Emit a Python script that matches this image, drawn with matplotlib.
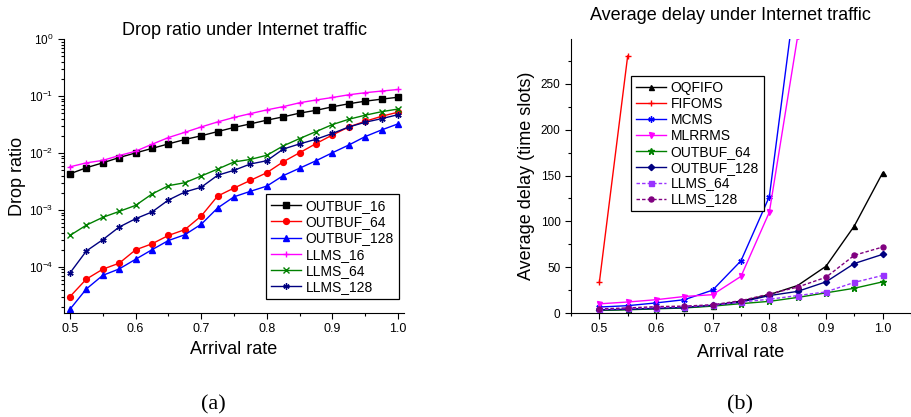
import numpy as np
import matplotlib.pyplot as plt
from matplotlib.ticker import MultipleLocator, LogLocator, NullFormatter

plt.rcParams['font.family'] = ['Liberation Sans', 'DejaVu Sans']
plt.rcParams['mathtext.fontset'] = 'custom'
plt.rcParams['mathtext.rm'] = 'Liberation Sans'

# drop ratio, arrival rate 0.5 .. 1.0 step 0.025
rate_a = np.round(np.arange(0.5, 1.0001, 0.025), 3)
outbuf_16 = [4.3e-3, 5.5e-3, 6.7e-3, 8.3e-3, 1.0e-2, 1.2e-2, 1.44e-2, 1.72e-2, 2.0e-2, 2.37e-2, 2.8e-2,
             3.24e-2, 3.76e-2, 4.3e-2, 5.0e-2, 5.6e-2, 6.45e-2, 7.3e-2, 8.1e-2, 8.8e-2, 9.5e-2]
outbuf_64 = [3.0e-5, 6.1e-5, 9.1e-5, 1.16e-4, 1.99e-4, 2.54e-4, 3.56e-4, 4.5e-4, 7.8e-4, 1.75e-3, 2.42e-3,
             3.3e-3, 4.5e-3, 7.0e-3, 1.01e-2, 1.46e-2, 2.07e-2, 2.86e-2, 3.6e-2, 4.4e-2, 5.2e-2]
outbuf_128 = [1.8e-5, 4.1e-5, 7.1e-5, 9.2e-5, 1.36e-4, 2.0e-4, 2.9e-4, 3.66e-4, 5.6e-4, 1.08e-3, 1.7e-3,
              2.12e-3, 2.62e-3, 4.0e-3, 5.4e-3, 7.3e-3, 1.01e-2, 1.38e-2, 1.94e-2, 2.54e-2, 3.24e-2]
llms_16 = [5.7e-3, 6.7e-3, 7.4e-3, 9.0e-3, 1.07e-2, 1.42e-2, 1.86e-2, 2.3e-2, 2.86e-2, 3.5e-2, 4.2e-2,
           4.9e-2, 5.7e-2, 6.5e-2, 7.6e-2, 8.5e-2, 9.4e-2, 0.105, 0.114, 0.122, 0.13]
llms_64 = [3.56e-4, 5.4e-4, 7.4e-4, 9.4e-4, 1.2e-3, 1.9e-3, 2.66e-3, 3.0e-3, 3.94e-3, 5.2e-3, 6.95e-3,
           7.7e-3, 9.1e-3, 1.33e-2, 1.79e-2, 2.37e-2, 3.15e-2, 3.9e-2, 4.6e-2, 5.3e-2, 5.9e-2]
llms_128 = [7.8e-5, 1.9e-4, 3.0e-4, 5.0e-4, 7.0e-4, 9.2e-4, 1.49e-3, 2.06e-3, 2.5e-3, 4.05e-3, 4.96e-3,
            6.4e-3, 7.3e-3, 1.17e-2, 1.44e-2, 1.74e-2, 2.2e-2, 2.86e-2, 3.46e-2, 4.0e-2, 4.7e-2]

# average delay, arrival rate 0.5 .. 1.0 step 0.05
rate_b = np.round(np.arange(0.5, 1.0001, 0.05), 2)
oqfifo = [3, 4, 5, 6, 8, 13, 20, 30, 51, 95, 153]
fifoms = [33.4, 280.5]
mcms = [6.5, 8, 11, 14.5, 25, 57, 127, 366]
mlrrms = [10, 12, 14.5, 18, 20, 40, 110, 302]
outbuf_64_d = [3, 3.5, 4.5, 5.5, 7.5, 10.2, 12.7, 17, 22, 27, 34]
outbuf_128_d = [3.5, 4, 5, 6, 8.5, 12, 19, 23.6, 34, 54, 64]
llms_64_d = [4, 5, 6, 7, 8.5, 12, 15, 19, 23, 33.4, 41]
llms_128_d = [4.5, 5.5, 7, 7.5, 9, 13.5, 20.7, 28.3, 39, 63, 72]

fig = plt.figure(figsize=(9.11, 4.17), dpi=100)

# (a) drop ratio
ax1 = fig.add_axes([0.0703, 0.2494, 0.3732, 0.6571])
ms = 4.2
ax1.plot(rate_a, outbuf_16, '-s', color='black', ms=ms, lw=1, label='OUTBUF_16')
ax1.plot(rate_a, outbuf_64, '-o', color='red', ms=ms, lw=1, label='OUTBUF_64')
ax1.plot(rate_a, outbuf_128, '-^', color='blue', ms=ms, lw=1, label='OUTBUF_128')
ax1.plot(rate_a, llms_16, '-+', color='#ff00ff', ms=5, mew=1, lw=1, label='LLMS_16')
ax1.plot(rate_a, llms_64, '-x', color='#008000', ms=4, mew=1, lw=1, label='LLMS_64')
ax1.plot(rate_a, llms_128, '-', marker=(6, 2, 0), color='#000080', ms=4.5, mew=1, lw=1, label='LLMS_128')
ax1.set_yscale('log')
ax1.set_ylim(1.55e-5, 1)
ax1.set_xlim(0.491, 1.009)
ax1.xaxis.set_minor_locator(MultipleLocator(0.05))
ax1.yaxis.set_major_locator(LogLocator(base=10, numticks=10))
ax1.yaxis.set_minor_locator(LogLocator(base=10, subs=np.arange(2, 10), numticks=20))
ax1.yaxis.set_minor_formatter(NullFormatter())
ax1.set_xticks(np.arange(0.5, 1.01, 0.1))
ax1.set_xticklabels(['0.5', '0.6', '0.7', '0.8', '0.9', '1.0'])
ax1.set_title('Drop ratio under Internet traffic', fontsize=13, pad=0, x=0.53)
ax1.set_xlabel('Arrival rate', fontsize=13, labelpad=4)
ax1.set_ylabel('Drop ratio', fontsize=13, labelpad=2)
ax1.legend(loc='upper left', bbox_to_anchor=(0.594, 0.434), fontsize=10, handlelength=2.2,
           handletextpad=0.3, labelspacing=0.16, borderpad=0.35, fancybox=False,
           edgecolor='black', framealpha=1, borderaxespad=0).get_frame().set_linewidth(0.9)

# (b) average delay
ax2 = fig.add_axes([0.6268, 0.2494, 0.3732, 0.6571])
ms = 3.6
ax2.plot(rate_b, oqfifo, '-^', color='black', ms=ms, lw=1, label='OQFIFO')
ax2.plot(rate_b[:len(fifoms)], fifoms, '-+', color='red', ms=5, mew=1, lw=1, label='FIFOMS')
ax2.plot(rate_b[:len(mcms)], mcms, '-', marker=(6, 2, 0), color='blue', ms=4.5, mew=1, lw=1, label='MCMS')
ax2.plot(rate_b[:len(mlrrms)], mlrrms, '-v', color='#ff00ff', ms=ms, lw=1, label='MLRRMS')
ax2.plot(rate_b, outbuf_64_d, '-*', color='#008000', ms=4.5, lw=1, label='OUTBUF_64')
ax2.plot(rate_b, outbuf_128_d, '-D', color='#000080', ms=3.2, lw=1, label='OUTBUF_128')
ax2.plot(rate_b, llms_64_d, 's', ls=(0, (2.5, 1.5)), color='#9933ff', ms=ms, lw=1, label='LLMS_64')
ax2.plot(rate_b, llms_128_d, 'o', ls=(0, (2.5, 1.5)), color='#800080', ms=ms, lw=1, label='LLMS_128')
ax2.set_xlim(0.45, 1.05)
ax2.set_ylim(0, 299)
ax2.xaxis.set_minor_locator(MultipleLocator(0.05))
ax2.set_xticks(np.arange(0.5, 1.01, 0.1))
ax2.set_xticklabels(['0.5', '0.6', '0.7', '0.8', '0.9', '1.0'])
ax2.yaxis.set_major_locator(MultipleLocator(50))
ax2.yaxis.set_minor_locator(MultipleLocator(25))
ax2.set_title('Average delay under Internet traffic', fontsize=13, pad=14, x=0.47)
ax2.set_xlabel('Arrival rate', fontsize=13, labelpad=6)
ax2.set_ylabel('Average delay (time slots)', fontsize=13, labelpad=4)
ax2.legend(loc='upper left', bbox_to_anchor=(0.176, 0.865), fontsize=10, handlelength=2.2,
           handletextpad=0.3, labelspacing=0.14, borderpad=0.35, fancybox=False,
           edgecolor='black', framealpha=1, borderaxespad=0).get_frame().set_linewidth(0.9)

for ax in (ax1, ax2):
    ax.spines['top'].set_visible(False)
    ax.spines['right'].set_visible(False)
    ax.tick_params(which='both', direction='out', labelsize=8.5, width=0.8)
    ax.tick_params(axis='x', labelsize=9)
    ax.tick_params(which='major', length=4)
    ax.tick_params(which='minor', length=2.5)

fig.text(213 / 911, 1 - 405 / 417, '(a)', family='Liberation Serif', fontsize=16, ha='center', va='center')
fig.text(740 / 911, 1 - 405 / 417, '(b)', family='Liberation Serif', fontsize=16, ha='center', va='center')

fig.savefig('out.png', dpi=100)
